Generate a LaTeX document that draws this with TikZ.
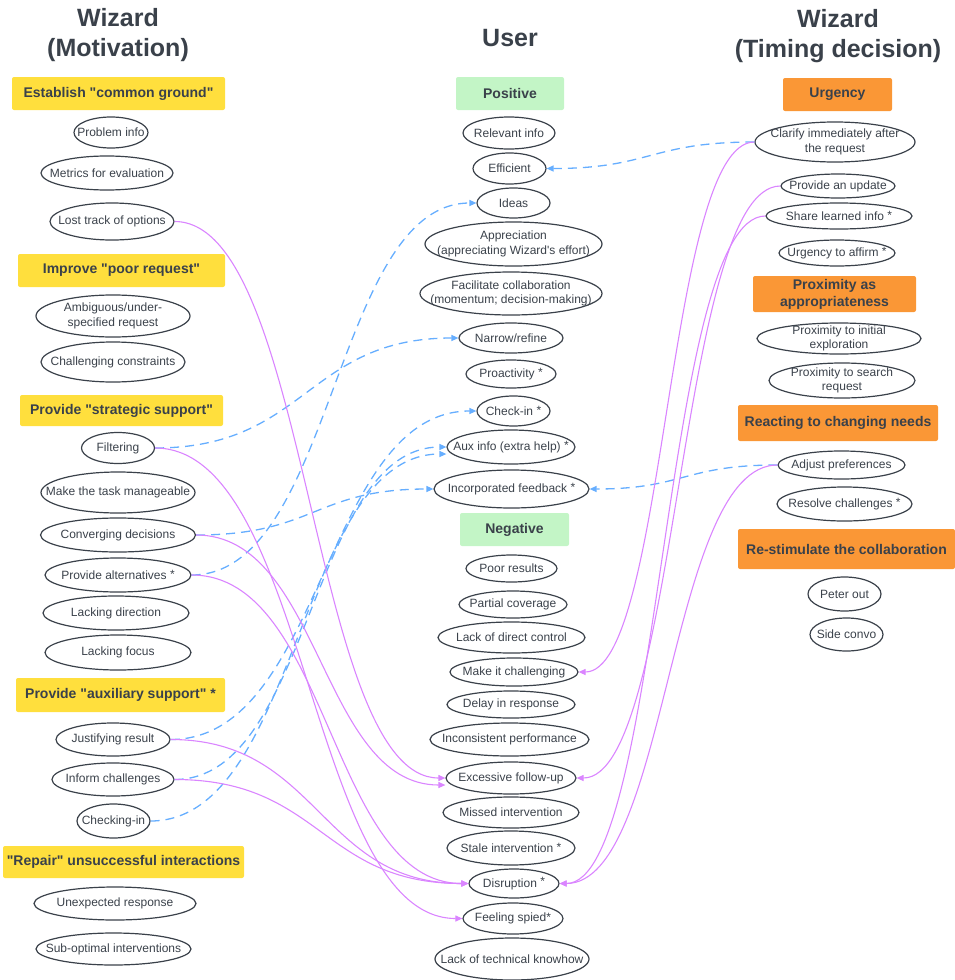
\documentclass[tikz,border=0pt]{standalone}
\usepackage{fontspec}
\setmainfont{Liberation Sans}[Ligatures=TeXOff]
\usetikzlibrary{calc}
\usetikzlibrary{shapes.geometric}
\usetikzlibrary{arrows.meta}
\definecolor{ink}{HTML}{3A414A}
\definecolor{yellowcat}{HTML}{FFDF3D}
\definecolor{greencat}{HTML}{C3F5C6}
\definecolor{orangecat}{HTML}{FA9736}
\definecolor{pinkline}{HTML}{DA85FF}
\definecolor{blueline}{HTML}{66AEFF}
\newcommand{\starmark}{\raisebox{1.5pt}{*}}
\tikzset{
  every node/.style={align=center, text=ink,
    font=\fontsize{12}{14.5}\selectfont},
  title/.style={font=\bfseries\fontsize{25}{30}\selectfont},
  cat/.style n args={3}{ % category box: colour, width, height
    fill=#1, rounded corners=2pt, inner sep=0pt,
    minimum width=#2, minimum height=#3,
    font=\bfseries\fontsize{14}{17}\selectfont},
  item/.style 2 args={ % one code in an oval: width, height
    ellipse, draw=ink, line width=1.2pt,
    inner xsep=-90pt, inner ysep=-40pt, % size comes from the minimum only
    minimum width=#1, minimum height=#2},
  hcurve/.style={ % leaves and enters horizontally, bends half way
    to path={let \p1=(\tikztostart), \p2=(\tikztotarget) in
      .. controls ({(\x1+\x2)/2},\y1) and ({(\x1+\x2)/2},\y2) .. (\tikztotarget)}},
  push/.style={ % solid: leads to a negative experience
    hcurve, draw=pinkline, line width=1.1pt,
    -{Triangle[length=7pt,width=6pt]}},
  pull/.style={ % dashed: leads to a positive experience
    hcurve, draw=blueline, line width=1.3pt, dash pattern=on 9pt off 6pt,
    -{Triangle[length=7pt,width=6pt]}}
}
\begin{document}
\begin{tikzpicture}[x=1pt, y=-1pt]
  \useasboundingbox (0,0) rectangle (955,980);

  % column titles
  \node [title] (tmotiv) at (118,35) {Wizard\\(Motivation)};
  \node [title] (tuser) at (510,38) {User};
  \node [title] (ttiming) at (838,36) {Wizard\\(Timing decision)};

  % Wizard (Motivation)
  \node [cat={yellowcat}{213}{33}] (common) at (118.5,93.5) {Establish "common ground"};
  \node [item={74}{31}] (probinfo) at (111,132.5) {Problem info};
  \node [item={132}{34}] (metrics) at (107,173) {Metrics for evaluation};
  \node [item={124}{37}] (losttrack) at (112,221.5) {Lost track of options};
  \node [cat={yellowcat}{207}{33}] (poorreq) at (121.5,270.5) {Improve "poor request"};
  \node [item={154}{42}] (ambig) at (113,316) {Ambiguous/under-\\specified request};
  \node [item={144}{40}] (constr) at (113,362) {Challenging constraints};
  \node [cat={yellowcat}{203}{31}] (strategic) at (121.5,410.5) {Provide "strategic support"};
  \node [item={73}{31}] (filtering) at (118,448) {Filtering};
  \node [item={154}{41}] (manage) at (118,492.5) {Make the task manageable};
  \node [item={155}{34}] (converge) at (118,535) {Converging decisions};
  \node [item={146}{34}] (altern) at (118,575) {Provide alternatives \starmark};
  \node [item={146}{34}] (direction) at (116,613) {Lacking direction};
  \node [item={146}{35}] (focus) at (118,652.5) {Lacking focus};
  \node [cat={yellowcat}{209}{34}] (auxsup) at (120.5,695) {Provide "auxiliary support" *};
  \node [item={114}{33}] (justify) at (113,739.5) {Justifying result};
  \node [item={122}{33}] (inform) at (113,779.5) {Inform challenges};
  \node [item={73}{34}] (checking) at (113.5,821) {Checking-in};
  \node [cat={yellowcat}{241}{32}] (repair) at (123.5,862) {"Repair" unsuccessful interactions};
  \node [item={162}{33}] (unexp) at (115,903.5) {Unexpected response};
  \node [item={155}{32}] (subopt) at (113.5,949) {Sub-optimal interventions};

  % User
  \node [cat={greencat}{108}{33}] (positive) at (510,93.5) {Positive};
  \node [item={92}{32}] (relevant) at (509,133) {Relevant info};
  \node [item={73}{31}] (efficient) at (509.5,168.5) {Efficient};
  \node [item={73}{30}] (ideas) at (513.5,203) {Ideas};
  \node [item={177}{44}] (apprec) at (513.5,244) {Appreciation\\(appreciating Wizard's effort)};
  \node [item={182}{43}] (facil) at (511,293.5) {Facilitate collaboration\\(momentum; decision-making)};
  \node [item={104}{30}] (narrow) at (511,338) {Narrow/refine};
  \node [item={90}{28}] (proact) at (511,374) {Proactivity \starmark};
  \node [item={73}{30}] (checkin) at (513.5,411) {Check-in \starmark};
  \node [item={128}{34}] (auxinfo) at (511,447) {Aux info (extra help) \starmark};
  \node [item={155}{38}] (incorp) at (511.5,489) {Incorporated feedback \starmark};
  \node [cat={greencat}{109}{33}] (negative) at (514.5,529.5) {Negative};
  \node [item={91}{27}] (poor) at (511.5,568.5) {Poor results};
  \node [item={108}{27}] (partial) at (513,604.5) {Partial coverage};
  \node [item={147}{31}] (lackctrl) at (511.5,637.5) {Lack of direct control};
  \node [item={128}{28}] (challenging) at (514,672) {Make it challenging};
  \node [item={128}{27}] (delay) at (511,704.5) {Delay in response};
  \node [item={159}{33}] (inconsist) at (509.5,739.5) {Inconsistent performance};
  \node [item={130}{32}] (excessive) at (511,778) {Excessive follow-up};
  \node [item={136}{31}] (missed) at (511,812.5) {Missed intervention};
  \node [item={128}{34}] (stale) at (511,848) {Stale intervention \starmark};
  \node [item={90}{29}] (disrupt) at (514,883.5) {Disruption \starmark};
  \node [item={100}{31}] (spied) at (513,918.5) {Feeling spied*};
  \node [item={154}{42}] (knowhow) at (512,959) {Lack of technical knowhow};

  % Wizard (Timing decision)
  \node [cat={orangecat}{109}{33}] (urgency) at (837.5,94.5) {Urgency};
  \node [item={160}{40}] (clarify) at (835,142) {Clarify immediately after\\the request};
  \node [item={114}{24}] (update) at (838,186) {Provide an update};
  \node [item={146}{26}] (share) at (839,216) {Share learned info \starmark};
  \node [item={116}{26}] (affirm) at (837,253) {Urgency to affirm \starmark};
  \node [cat={orangecat}{163}{36}] (proximity) at (834.5,294) {Proximity as\\appropriateness};
  \node [item={164}{31}] (proxinit) at (839,338.5) {Proximity to initial\\exploration};
  \node [item={146}{35}] (proxsearch) at (842,380.5) {Proximity to search\\request};
  \node [cat={orangecat}{200}{36}] (reacting) at (838,423) {Reacting to changing needs};
  \node [item={127}{28}] (adjust) at (841.5,465) {Adjust preferences};
  \node [item={135}{34}] (resolve) at (844.5,504) {Resolve challenges \starmark};
  \node [cat={orangecat}{217}{40}] (restim) at (846.5,549) {Re-stimulate the collaboration};
  \node [item={73}{34}] (peter) at (844.5,594) {Peter out};
  \node [item={73}{33}] (sideconvo) at (846.5,634.5) {Side convo};

  % dashed links
  \draw (filtering.east) edge [pull] (narrow.west);
  \draw (altern.east) edge [pull] (ideas.west);
  \draw (converge.east) edge [pull] (incorp.west);
  \draw (justify.east) edge [pull] (checkin.west);
  \draw (inform.east) edge [pull] (auxinfo.west);
  \draw (checking.east) edge [pull] ([yshift=-7pt]auxinfo.west);
  \draw (clarify.west) edge [pull] (efficient.east);
  \draw (adjust.west) edge [pull] (incorp.east);

  % solid links
  \draw (losttrack.east) edge [push] (excessive.west);
  \draw (converge.east) edge [push] ([yshift=-7pt]excessive.west);
  \draw (filtering.east) edge [push] (spied.west);
  \draw (altern.east) edge [push] (disrupt.west);
  \draw (justify.east) edge [push] (disrupt.west);
  \draw (inform.east) edge [push] (disrupt.west);
  \draw (clarify.west) edge [push] (challenging.east);
  \draw (update.west) edge [push] (excessive.east);
  \draw (share.west) edge [push] (disrupt.east);
  \draw (adjust.west) edge [push] (disrupt.east);

\end{tikzpicture}
\end{document}
